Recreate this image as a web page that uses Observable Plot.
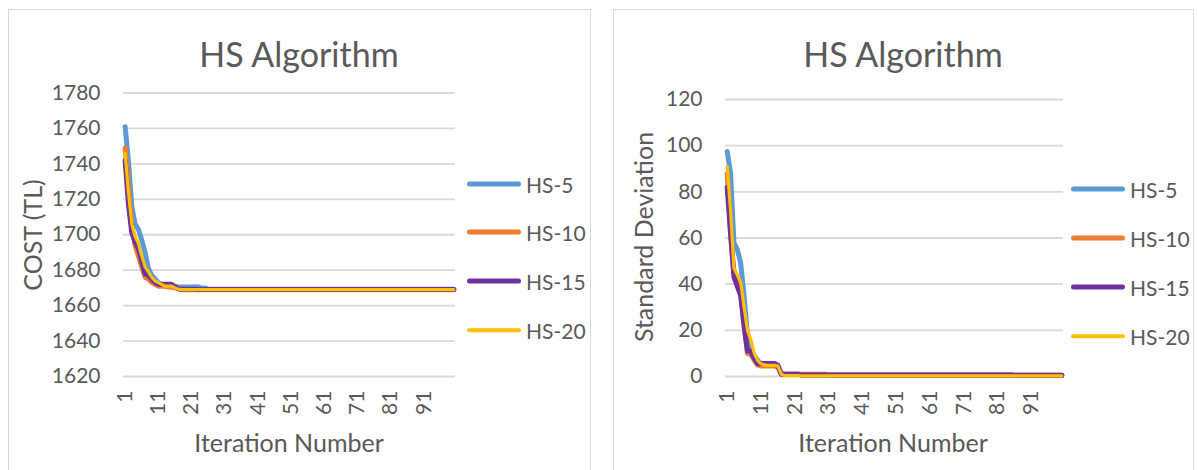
<!DOCTYPE html>
<html>
<head>
<meta charset="utf-8">
<script src="https://cdn.jsdelivr.net/npm/d3@7"></script>
<script src="https://cdn.jsdelivr.net/npm/@observablehq/plot@0.6"></script>
<style>
  html, body { margin:0; padding:0; background:#fff; }
  body { width:1197px; height:470px; position:relative; overflow:hidden; font-family: Lato, "Open Sans", sans-serif; color:#595959; }
  .panel { position:absolute; top:9px; height:480px; border:1px solid #d9d9d9; box-sizing:border-box; background:#fff; }
  .abs { position:absolute; white-space:nowrap; }
  .title { font-size:34px; transform:translate(-50%,-50%); }
  .axt { font-size:25px; transform:translate(-50%,-50%); }
  .axy { font-size:25px; transform:translate(-50%,-50%) rotate(-90deg); }
  .leg { font-size:21px; transform:translateY(-50%); }
  .sw { position:absolute; border-radius:3px; transform:translateY(-50%); }
  .chart { position:absolute; top:60px; }
</style>
</head>
<body>
<script>
// ---------- data ----------
const iterations = d3.range(1, 101);
const xTicks = [1, 11, 21, 31, 41, 51, 61, 71, 81, 91];
const costTicks = [1620, 1640, 1660, 1680, 1700, 1720, 1740, 1760, 1780];
const stdTicks = [0, 20, 40, 60, 80, 100, 120];
const seriesNames = ["HS-5", "HS-10", "HS-15", "HS-20"];
const seriesColors = ["#5B9BD5", "#ED7D31", "#7030A0", "#FFC000"];
const seriesWidths = [5, 5, 5, 3.2];

const hs5Cost = [
1761,1741,1716,1706,1703,1697,1690,1681,1677,1675,
1673,1672,1671,1671,1671,1671,1670.5,1670.5,1670.5,1670.5,
1670.5,1670.5,1670.5,1670,1670,1669.3,1669.3,1669.3,1669.3,1669.3,
1669.3,1669.3,1669.3,1669.3,1669.3,1669.3,1669.3,1669.3,1669.3,1669.3,
1669.3,1669.3,1669.3,1669.3,1669.3,1669.3,1669.3,1669.3,1669.3,1669.3,
1669.3,1669.3,1669.3,1669.3,1669.3,1669.3,1669.3,1669.3,1669.3,1669.3,
1669.3,1669.3,1669.3,1669.3,1669.3,1669.3,1669.3,1669.3,1669.3,1669.3,
1669.3,1669.3,1669.3,1669.3,1669.3,1669.3,1669.3,1669.3,1669.3,1669.3,
1669.3,1669.3,1669.3,1669.3,1669.3,1669.3,1669.3,1669.3,1669.3,1669.3,
1669.3,1669.3,1669.3,1669.3,1669.3,1669.3,1669.3,1669.3,1669.3,1669.3];
const hs10Cost = [
1749,1726,1705,1694,1688,1682,1676,1675,1673,1672,
1671,1671,1671,1670.5,1670.5,1670,1669.5,1669,1669,1669,
1669,1669,1669,1669,1669,1669,1669,1669,1669,1669,
1669,1669,1669,1669,1669,1669,1669,1669,1669,1669,
1669,1669,1669,1669,1669,1669,1669,1669,1669,1669,
1669,1669,1669,1669,1669,1669,1669,1669,1669,1669,
1669,1669,1669,1669,1669,1669,1669,1669,1669,1669,
1669,1669,1669,1669,1669,1669,1669,1669,1669,1669,
1669,1669,1669,1669,1669,1669,1669,1669,1669,1669,
1669,1669,1669,1669,1669,1669,1669,1669,1669,1669];
const hs15Cost = [
1742,1717,1701,1696,1692,1685,1678,1677,1675,1673,
1672,1672,1672,1672,1672,1670.5,1669.5,1669.3,1669.3,1669.3,
1669.3,1669.3,1669.1,1669.1,1669.1,1669.1,1669.1,1669.1,1669.1,1669.1,
1669.1,1669.1,1669.1,1669.1,1669.1,1669.1,1669.1,1669.1,1669.1,1669.1,
1669.1,1669.1,1669.1,1669.1,1669.1,1669.1,1669.1,1669.1,1669.1,1669.1,
1669.1,1669.1,1669.1,1669.1,1669.1,1669.1,1669.1,1669.1,1669.1,1669.1,
1669.1,1669.1,1669.1,1669.1,1669.1,1669.1,1669.1,1669.1,1669.1,1669.1,
1669.1,1669.1,1669.1,1669.1,1669.1,1669.1,1669.1,1669.1,1669.1,1669.1,
1669.1,1669.1,1669.1,1669.1,1669.1,1669.1,1669.1,1669.1,1669.1,1669.1,
1669.1,1669.1,1669.1,1669.1,1669.1,1669.1,1669.1,1669.1,1669.1,1669.1];
const hs20Cost = [
1746,1724,1706,1699,1695,1688,1682,1679,1676,1674,
1673,1672,1671,1671,1671,1670,1669.3,1669,1669,1669,
1669,1669,1669,1669,1669,1669,1669,1669,1669,1669,
1669,1669,1669,1669,1669,1669,1669,1669,1669,1669,
1669,1669,1669,1669,1669,1669,1669,1669,1669,1669,
1669,1669,1669,1669,1669,1669,1669,1669,1669,1669,
1669,1669,1669,1669,1669,1669,1669,1669,1669,1669,
1669,1669,1669,1669,1669,1669,1669,1669,1669,1669,
1669,1669,1669,1669,1669,1669,1669,1669,1669,1669,
1669,1669,1669,1669,1669,1669,1669,1669,1669,1669];

const hs5Std = [
97.5,88,58,55,49,35,18,12,9,7,
5.5,5.5,5.5,5.5,5.5,5,1.2,1,1,1,
1,1,0.8,0.7,0.6,0.5,0.5,0.5,0.5,0.5,
0.5,0.5,0.5,0.5,0.5,0.5,0.5,0.5,0.5,0.5,
0.5,0.5,0.5,0.5,0.5,0.5,0.5,0.5,0.5,0.5,
0.5,0.5,0.5,0.5,0.5,0.5,0.5,0.5,0.5,0.5,
0.5,0.5,0.5,0.5,0.5,0.5,0.5,0.5,0.5,0.5,
0.5,0.5,0.5,0.5,0.5,0.5,0.5,0.5,0.5,0.5,
0.5,0.5,0.5,0.5,0.5,0.4,0.4,0.4,0.4,0.4,
0.4,0.4,0.4,0.4,0.4,0.4,0.4,0.4,0.4,0.4];
const hs10Std = [
88,62,45,42,36,22,10,9.5,7,5,
4.5,4.5,4.5,4.5,4.5,4,1,1,1,1,
1,1,1,1,1,1,1,1,1,1,
0.6,0.6,0.6,0.6,0.6,0.6,0.6,0.6,0.6,0.6,
0.6,0.6,0.6,0.6,0.6,0.6,0.6,0.6,0.6,0.6,
0.6,0.6,0.6,0.6,0.6,0.6,0.6,0.6,0.6,0.6,
0.6,0.6,0.6,0.6,0.6,0.6,0.6,0.6,0.6,0.6,
0.6,0.6,0.6,0.6,0.6,0.6,0.6,0.6,0.6,0.6,
0.6,0.6,0.6,0.6,0.6,0.5,0.5,0.5,0.5,0.5,
0.5,0.5,0.5,0.5,0.5,0.5,0.5,0.5,0.5,0.5];
const hs15Std = [
82,62,43,39,35,22,11,11,8,5.5,
5.6,5.6,5.6,5.6,5.6,4.5,1,1,1,1,
1,1,0.6,0.6,0.6,0.6,0.6,0.6,0.6,0.6,
0.6,0.6,0.6,0.6,0.6,0.6,0.6,0.6,0.6,0.6,
0.6,0.6,0.6,0.6,0.6,0.6,0.6,0.6,0.6,0.6,
0.6,0.6,0.6,0.6,0.6,0.6,0.6,0.6,0.6,0.6,
0.6,0.6,0.6,0.6,0.6,0.6,0.6,0.6,0.6,0.6,
0.6,0.6,0.6,0.6,0.6,0.6,0.6,0.6,0.6,0.6,
0.6,0.6,0.6,0.6,0.6,0.5,0.5,0.5,0.5,0.5,
0.5,0.5,0.5,0.5,0.5,0.5,0.5,0.5,0.5,0.5];
const hs20Std = [
91,72,47,44,41,30,20,16,10,7,
5.5,5,4.8,4.8,4.8,4.5,1,0.4,0.4,0.4,
0.4,0.4,0.3,0.3,0.3,0.3,0.3,0.3,0.3,0.3,
0.3,0.3,0.3,0.3,0.3,0.3,0.3,0.3,0.3,0.3,
0.3,0.3,0.3,0.3,0.3,0.3,0.3,0.3,0.3,0.3,
0.3,0.3,0.3,0.3,0.3,0.3,0.3,0.3,0.3,0.3,
0.3,0.3,0.3,0.3,0.3,0.3,0.3,0.3,0.3,0.3,
0.3,0.3,0.3,0.3,0.3,0.3,0.3,0.3,0.3,0.3,
0.3,0.3,0.3,0.3,0.3,0.3,0.3,0.3,0.3,0.3,
0.3,0.3,0.3,0.3,0.3,0.3,0.3,0.3,0.3,0.3];

const costSeries = [hs5Cost, hs10Cost, hs15Cost, hs20Cost];
const stdSeries = [hs5Std, hs10Std, hs15Std, hs20Std];

// ---------- drawing ----------
function el(tag, cls, css, text) {
  const e = document.createElement(tag);
  if (cls) e.className = cls;
  Object.assign(e.style, css || {});
  if (text != null) e.textContent = text;
  document.body.appendChild(e);
  return e;
}

function drawPanel(cfg) {
  el("div", "panel", {left: cfg.panelLeft + "px", width: cfg.panelWidth + "px"});
  el("div", "abs title", {left: cfg.titleX + "px", top: "53px"}, "HS Algorithm");

  const svg = Plot.plot({
    width: cfg.svgWidth,
    height: 400,
    marginLeft: cfg.marginLeft,
    marginRight: cfg.marginRight,
    marginTop: cfg.marginTop,
    marginBottom: 84,
    x: {domain: [0.5, 100.5]},
    y: {domain: cfg.domain},
    style: {fontFamily: "Lato, 'Open Sans', sans-serif", fontSize: "21px", color: "#595959", background: "transparent"},
    marks: [
      Plot.gridY(cfg.ticks, {stroke: "#d9d9d9", strokeOpacity: 1, strokeWidth: 1.8}),
      Plot.axisY(cfg.ticks, {tickSize: 0, tickPadding: 23, label: null, fontSize: 21, tickFormat: d => String(d)}),
      Plot.axisX(xTicks, {tickSize: 0, tickRotate: -90, tickPadding: 14, label: null, fontSize: 21, tickFormat: d => String(d)}),
      ...cfg.series.map((vals, k) => Plot.line(vals, {
        x: (d, i) => iterations[i], y: d => d,
        stroke: seriesColors[k], strokeWidth: seriesWidths[k],
        strokeLinejoin: "round", strokeLinecap: "round"
      }))
    ]
  });
  svg.classList.add("chart");
  svg.style.left = cfg.panelLeft + "px";
  document.body.appendChild(svg);

  el("div", "abs axy", {left: cfg.yTitleX + "px", top: cfg.yTitleY + "px"}, cfg.yTitle);
  el("div", "abs axt", {left: cfg.xTitleX + "px", top: "442px"}, "Iteration Number");

  seriesNames.forEach((name, k) => {
    const y = cfg.legY[k];
    el("div", "sw", {left: cfg.legX + "px", top: y + "px", width: "54px",
      height: (k === 3 ? 3.5 : 5) + "px", background: seriesColors[k]});
    el("div", "abs leg", {left: (cfg.legX + 59) + "px", top: y + "px"}, name);
  });
}

drawPanel({
  panelLeft: 8, panelWidth: 583, svgWidth: 582,
  marginLeft: 115, marginRight: 135, marginTop: 32.5,
  domain: [1620, 1780], ticks: costTicks, series: costSeries,
  titleX: 299, yTitle: "COST (TL)", yTitleX: 32, yTitleY: 235, xTitleX: 289,
  legX: 467, legY: [184, 232, 281, 330]
});
drawPanel({
  panelLeft: 613, panelWidth: 581, svgWidth: 580,
  marginLeft: 112, marginRight: 130, marginTop: 39,
  domain: [0, 120], ticks: stdTicks, series: stdSeries,
  titleX: 903, yTitle: "Standard Deviation", yTitleX: 643, yTitleY: 237, xTitleX: 893,
  legX: 1071, legY: [189, 238, 287, 336]
});
</script>
</body>
</html>
